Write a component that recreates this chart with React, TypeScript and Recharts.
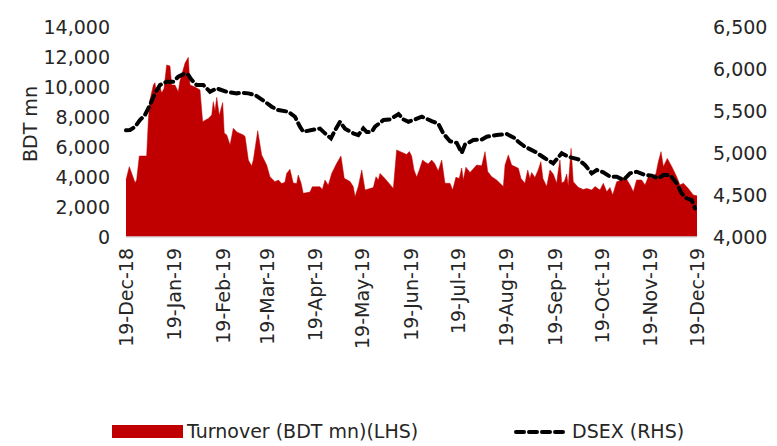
import React from 'react'
import { ComposedChart, Area, Line, XAxis, YAxis, Label } from 'recharts'

// day offsets from 19-Dec-18
const turnoverDays = [
  0, 2.1, 5.8, 6.8, 8.5, 13.2, 14.3, 15.3, 17.5, 18.5, 19.6, 21.3, 22.8, 24.3, 26.0, 28.1, 29.2, 31.3, 33.4, 34.5,
  37.7, 39.8, 40.9, 44.1, 47.3, 49.0, 52.6, 54.8, 55.8, 56.9, 58.0, 59.6, 61.8, 62.8, 64.4, 66.5, 68.6, 70.8, 72.9, 75.0,
  76.1, 78.2, 80.3, 81.4, 84.2, 86.7, 89.9, 92.0, 95.2, 97.4, 99.5, 101.6, 102.7, 104.8, 106.9, 109.1, 110.1, 111.9, 113.3, 117.6,
  119.1, 124.0, 125.5, 127.2, 129.3, 131.5, 134.7, 137.4, 139.5, 143.2, 145.3, 146.4, 148.5, 150.7, 152.8, 154.9, 158.1, 159.8, 161.3, 162.4,
  165.5, 170.9, 173.0, 175.1, 177.3, 179.4, 181.1, 182.6, 184.1, 185.8, 187.5, 189.6, 191.1, 193.2, 195.4, 197.5, 199.6, 201.8, 203.9, 207.1,
  208.8, 210.9, 213.0, 214.6, 215.6, 217.3, 219.9, 224.2, 227.4, 229.5, 231.2, 233.8, 236.9, 241.2, 242.3, 244.4, 246.5, 250.8, 252.5, 255.0,
  256.8, 258.2, 259.3, 261.4, 263.5, 265.2, 266.5, 268.9, 271.0, 273.1, 275.3, 276.3, 277.4, 278.5, 280.2, 281.7, 282.7, 284.5, 285.9, 289.1,
  292.3, 294.5, 297.7, 299.8, 303.0, 305.1, 307.3, 309.4, 311.1, 313.7, 316.9, 319.0, 322.2, 324.3, 326.4, 329.6, 331.8, 333.9, 336.0, 338.8,
  340.3, 342.0, 343.5, 346.0, 348.9, 352.0, 354.1, 356.3, 359.4, 362.6, 365.0,
]
const turnoverValues = [
  3800, 4690, 3620, 3800, 5400, 5400, 7800, 9130, 10130, 10290, 9500, 10200, 9600, 9900, 11470, 11400, 10130, 10130, 9690, 10400,
  11580, 11980, 10130, 10000, 9800, 7690, 7900, 8130, 9020, 8400, 9310, 8100, 8960, 6930, 6800, 6130, 7250, 7000, 6900, 6800,
  6700, 5130, 4730, 5130, 7090, 5470, 4800, 4020, 3690, 3800, 3560, 3650, 4240, 4510, 3600, 3560, 4130, 3600, 2910, 3000,
  3350, 3350, 3160, 3800, 3450, 4240, 4910, 5400, 3910, 3700, 3350, 2690, 3360, 4470, 3130, 3200, 3300, 4020, 3800, 4240,
  3900, 3240, 5800, 5700, 5600, 5500, 5700, 5400, 4470, 4000, 4470, 5130, 5000, 4870, 5130, 4870, 4400, 5130, 3580, 3580,
  3130, 3980, 3900, 4600, 3800, 4650, 4300, 4800, 4750, 5690, 4360, 4020, 3800, 3360, 4800, 5470, 4800, 4580, 3900, 3580,
  4470, 3900, 4300, 3960, 4470, 5020, 3900, 3360, 4470, 4200, 3580, 4400, 5130, 3600, 3700, 4200, 3400, 5910, 3690, 3310,
  3160, 3240, 3130, 3360, 3130, 3580, 3020, 3300, 2800, 3690, 3800, 4020, 3470, 3020, 3800, 3800, 3470, 4020, 3910, 4240,
  5020, 5690, 4690, 5240, 4690, 4020, 3470, 3580, 3240, 2800, 2750,
]

const dsexDays = [
  0, 2.6, 5.8, 8.9, 12.1, 15.3, 18.5, 21.7, 26.0, 30.2, 33.4, 37.7, 39.8, 42.0, 45.2, 49.4, 53.7, 58.0, 64.4, 70.8,
  74.0, 78.2, 82.5, 88.9, 93.1, 97.4, 103.7, 108.0, 111.2, 113.3, 118.7, 124.0, 127.2, 131.0, 133.6, 136.8, 140.0, 145.3, 148.5, 151.7,
  153.9, 157.1, 159.2, 164.6, 168.8, 174.2, 177.3, 180.5, 184.8, 189.1, 195.4, 199.6, 202.8, 207.1, 211.4, 214.6, 216.7, 222.0, 227.4, 230.6,
  236.9, 243.4, 248.7, 250.8, 255.0, 261.4, 267.8, 273.1, 278.5, 282.7, 289.1, 293.4, 297.7, 300.9, 305.1, 309.4, 313.7, 318.0, 322.2, 326.4,
  331.8, 336.0, 340.3, 343.5, 347.8, 352.0, 355.2, 358.4, 361.6, 363.7,
]
const dsexValues = [
  5270, 5274, 5313, 5393, 5452, 5571, 5710, 5809, 5848, 5848, 5908, 5948, 5930, 5869, 5809, 5809, 5729, 5769, 5729, 5710,
  5717, 5710, 5690, 5610, 5551, 5511, 5491, 5432, 5313, 5253, 5274, 5290, 5234, 5175, 5270, 5372, 5290, 5234, 5214, 5294,
  5250, 5253, 5313, 5393, 5400, 5464, 5400, 5372, 5400, 5432, 5380, 5350, 5234, 5140, 5120, 5000, 5100, 5154, 5160, 5194,
  5214, 5226, 5175, 5134, 5075, 5016, 4937, 4877, 4996, 4956, 4925, 4857, 4758, 4797, 4770, 4718, 4718, 4678, 4758, 4777,
  4738, 4730, 4698, 4738, 4738, 4639, 4520, 4460, 4440, 4341,
]

const monthTickDays = [0, 31, 62, 90, 121, 151, 182, 212, 243, 274, 304, 335, 365]
const monthTickLabels = [
  '19-Dec-18', '19-Jan-19', '19-Feb-19', '19-Mar-19', '19-Apr-19', '19-May-19', '19-Jun-19',
  '19-Jul-19', '19-Aug-19', '19-Sep-19', '19-Oct-19', '19-Nov-19', '19-Dec-19',
]
const leftTicks = [0, 2000, 4000, 6000, 8000, 10000, 12000, 14000]
const rightTicks = [4000, 4500, 5000, 5500, 6000, 6500]

type Row = { day: number; turnover?: number; dsex?: number }

const buildRows = (): Row[] => {
  const map = new Map<number, Row>()
  turnoverDays.forEach((d, i) => {
    const row = map.get(d) ?? { day: d }
    row.turnover = turnoverValues[i]
    map.set(d, row)
  })
  dsexDays.forEach((d, i) => {
    const row = map.get(d) ?? { day: d }
    row.dsex = dsexValues[i]
    map.set(d, row)
  })
  return Array.from(map.values()).sort((a, b) => a.day - b.day)
}

const data = buildRows()

const FONT = '"DejaVu Sans", Verdana, sans-serif'
const FS = 19
const TEXT = '#262626'
const RED = '#C00000'
const fmt = (v: number) => v.toLocaleString('en-US')

const DateTick = (props: any) => {
  const { x, y, payload } = props
  const idx = monthTickDays.indexOf(payload.value)
  const ty = y + 9
  return (
    <text
      x={x}
      y={ty}
      transform={`rotate(-90 ${x} ${ty})`}
      textAnchor="end"
      dominantBaseline="central"
      fontSize={FS}
      fontFamily={FONT}
      fill={TEXT}
    >
      {monthTickLabels[idx]}
    </text>
  )
}

export default function App() {
  return (
    <div style={{ position: 'absolute', left: 0, top: 0, width: 777, height: 446, background: '#fff', fontFamily: FONT }}>
      <ComposedChart width={777} height={446} data={data} margin={{ top: 27, right: 0, bottom: 29, left: 0 }}>
        <XAxis
          dataKey="day"
          type="number"
          domain={[0, 365]}
          ticks={monthTickDays}
          interval={0}
          tick={<DateTick />}
          tickLine={false}
          tickSize={0}
          height={180}
          axisLine={{ stroke: '#d9d9d9', strokeWidth: 1.5 }}
        />
        <YAxis
          yAxisId="left"
          domain={[0, 14000]}
          ticks={leftTicks}
          tickFormatter={fmt}
          width={126}
          axisLine={false}
          tickLine={false}
          tickSize={0}
          tickMargin={16}
          tick={{ fontSize: FS, fontFamily: FONT, fill: TEXT }}
        >
          <Label
            content={() => (
              <text
                x={30}
                y={124}
                transform="rotate(-90 30 124)"
                textAnchor="middle"
                dominantBaseline="central"
                fontSize={FS}
                fontFamily={FONT}
                fill={TEXT}
              >
                BDT mn
              </text>
            )}
          />
        </YAxis>
        <YAxis
          yAxisId="right"
          orientation="right"
          domain={[4000, 6500]}
          ticks={rightTicks}
          tickFormatter={fmt}
          width={80}
          axisLine={false}
          tickLine={false}
          tickSize={0}
          tickMargin={16}
          tick={{ fontSize: FS, fontFamily: FONT, fill: TEXT, textAnchor: 'start' }}
        />
        <Area
          yAxisId="left"
          type="linear"
          dataKey="turnover"
          fill={RED}
          fillOpacity={1}
          stroke={RED}
          strokeWidth={0.5}
          connectNulls
          dot={false}
          activeDot={false}
          isAnimationActive={false}
        />
        <Line
          yAxisId="right"
          type="linear"
          dataKey="dsex"
          stroke="#000"
          strokeWidth={4}
          strokeDasharray="8 5"
          strokeLinecap="round"
          connectNulls
          dot={false}
          activeDot={false}
          isAnimationActive={false}
        />
      </ComposedChart>
      <div
        style={{
          position: 'absolute',
          top: 419,
          left: 0,
          width: 777,
          height: 24,
          fontSize: FS,
          color: TEXT,
          lineHeight: '24px',
        }}
      >
        <div style={{ position: 'absolute', left: 112, top: 6, width: 71, height: 13, background: RED }} />
        <div style={{ position: 'absolute', left: 187, top: 0, whiteSpace: 'nowrap' }}>Turnover (BDT mn)(LHS)</div>
        <svg style={{ position: 'absolute', left: 514, top: 7 }} width={54} height={12}>
          <line x1={2} y1={6} x2={52} y2={6} stroke="#000" strokeWidth={4} strokeDasharray="8 5" strokeLinecap="round" />
        </svg>
        <div style={{ position: 'absolute', left: 572, top: 0, whiteSpace: 'nowrap' }}>DSEX (RHS)</div>
      </div>
    </div>
  )
}
